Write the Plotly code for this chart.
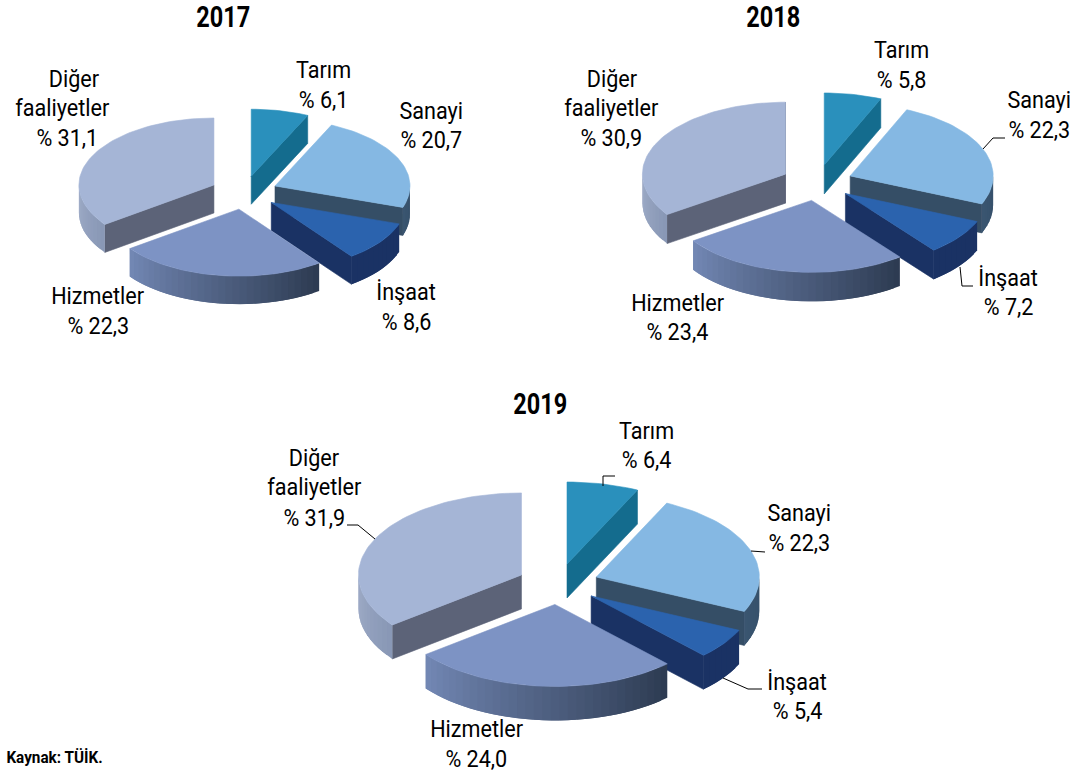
import math
import plotly.graph_objects as go

# ---- data ----
categories = ["Tarım", "Sanayi", "İnşaat", "Hizmetler", "Diğer faaliyetler"]
years = ["2017", "2018", "2019"]
values_2017 = [6.1, 20.7, 8.6, 22.3, 31.1]
values_2018 = [5.8, 22.3, 7.2, 23.4, 30.9]
values_2019 = [6.4, 22.3, 5.4, 24.0, 31.9]
source_text = "Kaynak: TÜİK."

# ---- styles ----
TOP = ["#2A90BC", "#85B8E3", "#2B63AE", "#7D93C4", "#A5B5D6"]
CUT = ["#146C8E", "#354E66", "#1A3264", "#2E3D54", "#5C6378"]
RIM_A = ["#146C8E", "#3A5570", "#1A3264", "#7388B5", "#A0ADC8"]
RIM_B = ["#146C8E", "#35506A", "#1A3264", "#2C3A50", "#8897B5"]
FONT = "Roboto, sans-serif"
PULL = 0.25

# centre x, centre y, x radius, y radius, depth
GEOM = {
    "2017": (244, 192.6, 135, 67, 28),
    "2018": (817, 182.6, 143, 72, 29),
    "2019": (558, 584, 163, 82, 34),
}
TITLE_POS = {"2017": (223, 17), "2018": (773, 16.5), "2019": (540, 403.5)}
# name line(s) and value line positions, per category
LABEL_POS = {
    "2017": [[(323, 70), (323, 100)], [(431, 111), (431, 140)], [(406, 292), (406, 322)],
             [(97, 296), (98, 326)], [(74, 79), (62, 108), (67, 138)]],
    "2018": [[(901, 50), (901, 80)], [(1039, 100), (1039, 130)], [(1008, 278), (1008, 307)],
             [(677, 303), (677, 332)], [(612, 79), (611, 108), (611, 138)]],
    "2019": [[(646, 431), (646, 460)], [(799, 513), (799, 543)], [(797, 682), (797, 711)],
             [(476, 729), (476, 759)], [(314, 458), (314, 487), (314, 518)]],
}
LEADERS = [
    [(983, 149), (993, 138), (1005, 138)],
    [(960, 267), (962, 286), (973, 286)],
    [(603, 486), (603, 476), (615, 476)],
    [(751, 551), (765, 552)],
    [(723, 678), (748, 689), (762, 689)],
    [(375, 539), (358, 525), (347, 525)],
]

fig = go.Figure()


def poly(pts, color, edge=0.6):
    xs = [p[0] for p in pts] + [pts[0][0]]
    ys = [p[1] for p in pts] + [pts[0][1]]
    fig.add_trace(go.Scatter(x=xs, y=ys, mode="lines", fill="toself", fillcolor=color,
                             line=dict(color=color, width=edge), hoverinfo="skip",
                             showlegend=False))


def lerp(c1, c2, t):
    a = [int(c1[i:i + 2], 16) for i in (1, 3, 5)]
    b = [int(c2[i:i + 2], 16) for i in (1, 3, 5)]
    return "rgb(%d,%d,%d)" % tuple(round(a[i] + (b[i] - a[i]) * t) for i in range(3))


def draw_pie(vals, geom):
    cx, cy, rx, ry, d = geom
    total = sum(vals)
    spans, acc = [], 0.0
    for v in vals:
        spans.append((acc, acc + v / total * 360))
        acc += v / total * 360
    # back to front
    order = sorted(range(len(vals)),
                   key=lambda i: -math.cos(math.radians(sum(spans[i]) / 2)))
    for i in order:
        a0, a1 = spans[i]
        mid = math.radians((a0 + a1) / 2)
        ax = cx + PULL * rx * math.sin(mid)
        ay = cy - PULL * ry * math.cos(mid)

        def pt(a, dz=0):
            r = math.radians(a)
            return (ax + rx * math.sin(r), ay - ry * math.cos(r) + dz)

        # cut faces
        if 0 < a1 % 360 < 180:
            poly([(ax, ay), pt(a1), pt(a1, d), (ax, ay + d)], CUT[i])
        if 180 < a0 < 360:
            poly([(ax, ay), pt(a0), pt(a0, d), (ax, ay + d)], CUT[i])
        # rim: each band reaches to the far end of the next one, so no seams show
        lo, hi = max(a0, 90), min(a1, 270)
        if hi > lo:
            n = max(2, int((hi - lo) / 3))
            for k in range(n):
                s0 = lo + (hi - lo) * k / n
                s1 = lo + (hi - lo) * min(k + 2, n) / n
                band = [pt(s0 + (s1 - s0) * j / 4) for j in range(5)]
                band += [pt(s1 - (s1 - s0) * j / 4, d) for j in range(5)]
                poly(band, lerp(RIM_A[i], RIM_B[i], 1 - (k + 0.5) / n), edge=0)
        # top
        n = max(4, int((a1 - a0) / 2))
        poly([(ax, ay)] + [pt(a0 + (a1 - a0) * k / n) for k in range(n + 1)], TOP[i])


def text(x, y, s, size=24, bold=False):
    fig.add_annotation(x=x, y=y, text=f"<b>{s}</b>" if bold else s, showarrow=False,
                       xanchor="center", yanchor="middle",
                       font=dict(family=FONT, size=size, color="#000000"))


for year, vals in zip(years, [values_2017, values_2018, values_2019]):
    draw_pie(vals, GEOM[year])
    text(*TITLE_POS[year], year, size=29, bold=True)
    for cat, v, pos in zip(categories, vals, LABEL_POS[year]):
        lines = cat.split(" ") + [f"% {v:.1f}".replace(".", ",")]
        for (x, y), s in zip(pos, lines):
            text(x, y, s)

for pts in LEADERS:
    fig.add_trace(go.Scatter(x=[p[0] for p in pts], y=[p[1] for p in pts], mode="lines",
                             line=dict(color="#000000", width=1), hoverinfo="skip",
                             showlegend=False))

text(54.5, 757, source_text, size=17, bold=True)

fig.update_layout(
    width=1077, height=776, margin=dict(l=0, r=0, t=0, b=0),
    paper_bgcolor="#FFFFFF", plot_bgcolor="#FFFFFF", showlegend=False,
    xaxis=dict(range=[0, 1077], visible=False, fixedrange=True),
    yaxis=dict(range=[776, 0], visible=False, fixedrange=True),
)
# the reference's face is condensed; no condensed family is installed, so narrow the real text
css = (".annotation-text{transform-box:fill-box;transform-origin:center;transform:scaleX(.9);}"
       ".annotation-text[style*='font-size: 29px']{transform:scaleX(.81);}")
fig.write_html("out.html", config={"displayModeBar": False},
               post_script="document.body.style.margin='0';"
                           "var s=document.createElement('style');"
                           f"s.textContent=\"{css}\";document.head.appendChild(s);")
